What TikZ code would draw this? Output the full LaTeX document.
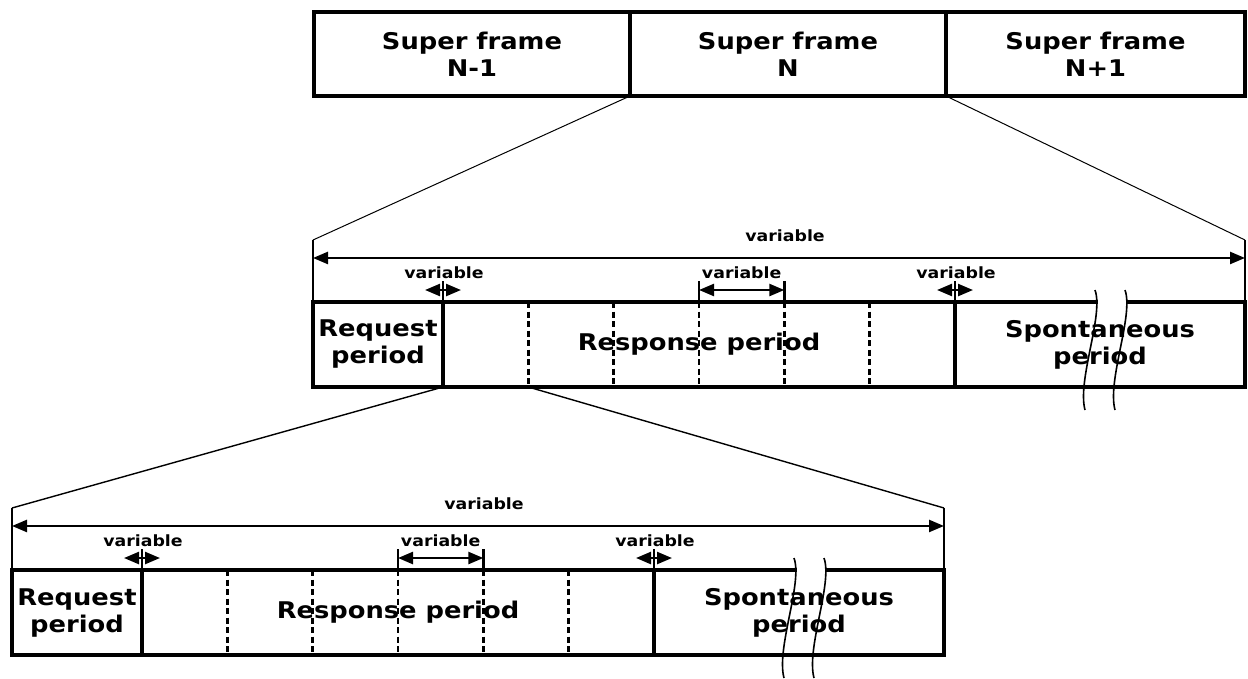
\documentclass[tikz,border=0pt]{standalone}
\usepackage{fontspec}
\setmainfont[FakeStretch=1.12]{DejaVu Sans}
\usetikzlibrary{arrows.meta,positioning,calc}

\begin{document}
\begin{tikzpicture}[
  x=1pt, y=-1pt,
  cell/.style={rectangle, draw, line width=3.5pt, outer sep=0pt, inner sep=0pt, minimum height=85pt, align=center, font=\bfseries\fontsize{23}{27}\selectfont},
  sframe/.style={cell, minimum height=84pt, font=\bfseries\fontsize{23}{27}\selectfont},
  slotline/.style={dash pattern=on 6pt off 3.5pt, line width=2.4pt},
  edgetick/.style={line width=2.6pt},
  zoomline/.style={line width=1pt},
  dimarrow/.style={{Triangle[length=15pt,width=12pt]}-{Triangle[length=15pt,width=12pt]}, line width=2.4pt},
  lbl/.style={font=\bfseries\fontsize{15.5}{17}\selectfont, inner sep=0pt},
  brk/.style={line width=1.6pt}
]
\useasboundingbox (0,0) rectangle (1248,678);

% super frames
\node[sframe, minimum width=316pt] (sf1) at (472,54) {Super frame\\N-1};
\node[sframe, minimum width=316pt, right=0pt of sf1] (sf2) {Super frame\\N};
\node[sframe, minimum width=299pt, right=0pt of sf2] (sf3) {Super frame\\N+1};

% two zoomed frames
\foreach \f/\x/\y in {m/313/302, b/12/570} {
  \node[cell, minimum width=130pt] (req\f) at (\x+65,\y+42.5) {Request\\period};
  \node[cell, minimum width=512pt, right=0pt of req\f] (resp\f) {Response period};
  \node[cell, minimum width=290pt, right=0pt of resp\f] (spon\f) {Spontaneous\\period};

  \foreach \i in {1,...,5}
    \draw[slotline] ($(resp\f.north west)!\i/6!(resp\f.north east)$) coordinate (t\f\i)
      -- ($(resp\f.south west)!\i/6!(resp\f.south east)$) coordinate (u\f\i);

  % whole length
  \coordinate (lt\f) at ($(req\f.north west)+(0,-62)$);
  \coordinate (rt\f) at ($(spon\f.north east)+(0,-62)$);
  \draw[edgetick] (lt\f) -- (req\f.north west);
  \draw[edgetick] (rt\f) -- (spon\f.north east);
  \draw[dimarrow] ($(lt\f)!0.29!(req\f.north west)$) -- ($(rt\f)!0.29!(spon\f.north east)$);
  \node[lbl] (var\f) at ($(lt\f)!0.5!(rt\f)+(6,-4)$) {variable};

  % guard times
  \foreach \g/\p in {g1/req\f.north east, g2/spon\f.north west} {
    \draw[edgetick] (\p) -- ++(0,-21);
    \draw[dimarrow] ($(\p)+(-18,-12)$) -- ($(\p)+(18,-12)$);
    \node[lbl] at ($(\p)+(1,-29)$) {variable};
  }

  % one slot
  \draw[edgetick] (t\f3) -- ++(0,-21);
  \draw[edgetick] (t\f4) -- ++(0,-21);
  \draw[dimarrow] ($(t\f3)+(0,-12)$) -- ($(t\f4)+(0,-12)$);
  \node[lbl] at ($(t\f3)!0.5!(t\f4)+(0,-29)$) {variable};

  % break marks
  \draw[white, line width=6pt] ($(spon\f.north west)+(143,0)$) -- ($(spon\f.north west)+(172,0)$);
  \foreach \d in {0,30}
    \draw[brk] ($(spon\f.north west)+(140+\d,-12)$) .. controls +(9,25) and +(-8,-30) .. ($(spon\f.north west)+(130+\d,108)$);
}

% zoom lines
\draw[zoomline] (sf2.south west) -- (ltm);
\draw[zoomline] (sf2.south east) -- (rtm);
\draw[zoomline, line width=1.4pt] (reqm.south east) -- (ltb);
\draw[zoomline, line width=1.4pt] (um1) -- (rtb);

\end{tikzpicture}
\end{document}
